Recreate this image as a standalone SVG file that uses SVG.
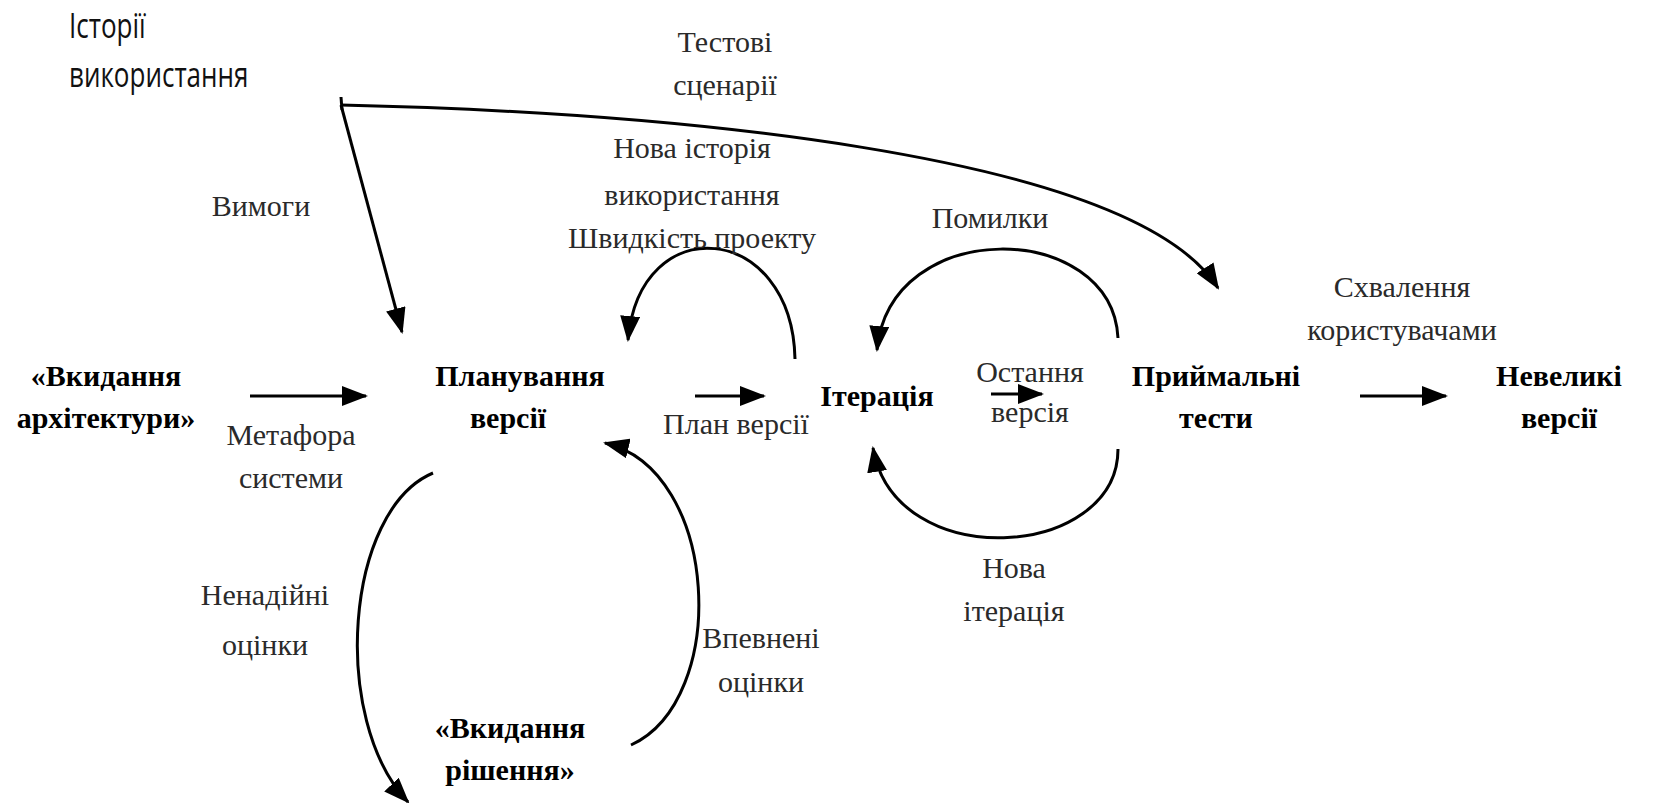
<svg xmlns="http://www.w3.org/2000/svg" width="1657" height="803" viewBox="0 0 1657 803">
<style>
.lbl{font-size:30px;fill:#2a2a2a;text-anchor:middle}
.node{font-size:30px;font-weight:bold;fill:#000;text-anchor:middle}
.sans{font-family:"Open Sans","Liberation Sans",sans-serif;font-size:26px;fill:#111}
.c{fill:none;stroke:#000;stroke-width:3}
</style>
<defs>
<marker id="ah" markerUnits="userSpaceOnUse" markerWidth="26" markerHeight="20" refX="24" refY="10" orient="auto">
<path d="M0,0 L26,10 L0,20 Z" fill="#000"/>
</marker>
</defs>
<rect width="1657" height="803" fill="#fff"/>
<g id="connectors">
<path class="c" d="M250,396 H366" marker-end="url(#ah)"/>
<path class="c" d="M695,396 H764" marker-end="url(#ah)"/>
<path class="c" d="M991,394 H1042" marker-end="url(#ah)"/>
<path class="c" d="M1360,396 H1446" marker-end="url(#ah)"/>
<path class="c" d="M341,97 L342,110"/>
<path class="c" d="M341,105 L402,332" marker-end="url(#ah)"/>
<path class="c" d="M341,105 C650,112 1130,150 1218,288" marker-end="url(#ah)"/>
<path class="c" d="M795,359 C792,222 640,208 628,340" marker-end="url(#ah)"/>
<path class="c" d="M1118,338 C1112,220 890,215 877,350" marker-end="url(#ah)"/>
<path class="c" d="M1118,449 C1118,560 895,575 873,448" marker-end="url(#ah)"/>
<path class="c" d="M433,473 C345,510 330,720 408,802" marker-end="url(#ah)"/>
<path class="c" d="M631,745 C730,700 720,470 605,443" marker-end="url(#ah)"/>
</g>
<g id="n-stories"><text class="sans" transform="translate(69,38) scale(1,1.3)">Історії</text><text class="sans" transform="translate(69,87) scale(1,1.3)">використання</text></g>
<g font-family="'Liberation Serif', 'Times New Roman', Tinos, 'DejaVu Serif', 'Noto Serif', FreeSerif, serif">
<g id="l-tests"><text class="lbl" x="725" y="52">Тестові</text><text class="lbl" x="725" y="95">сценарії</text></g>
<g id="l-new-story"><text class="lbl" x="692" y="158">Нова історія</text><text class="lbl" x="692" y="205">використання</text><text class="lbl" x="692" y="248">Швидкість проекту</text></g>
<g id="l-req"><text class="lbl" x="261" y="216">Вимоги</text></g>
<g id="l-bugs"><text class="lbl" x="990" y="228">Помилки</text></g>
<g id="l-approve"><text class="lbl" x="1402" y="297">Схвалення</text><text class="lbl" x="1402" y="340">користувачами</text></g>
<g id="n-arch"><text class="node" x="106" y="386">«Вкидання</text><text class="node" x="106" y="428">архітектури»</text></g>
<g id="l-metaphor"><text class="lbl" x="291" y="445">Метафора</text><text class="lbl" x="291" y="488">системи</text></g>
<g id="n-plan"><text class="node" x="520" y="386">Планування</text><text class="node" x="508" y="428">версії</text></g>
<g id="l-plan"><text class="lbl" x="736" y="434">План версії</text></g>
<g id="n-iter"><text class="node" x="877" y="406">Ітерація</text></g>
<g id="l-last"><text class="lbl" x="1030" y="382">Остання</text><text class="lbl" x="1030" y="422">версія</text></g>
<g id="n-accept"><text class="node" x="1216" y="386">Приймальні</text><text class="node" x="1216" y="428">тести</text></g>
<g id="n-small"><text class="node" x="1559" y="386">Невеликі</text><text class="node" x="1559" y="428">версії</text></g>
<g id="l-newiter"><text class="lbl" x="1014" y="578">Нова</text><text class="lbl" x="1014" y="621">ітерація</text></g>
<g id="l-unrel"><text class="lbl" x="265" y="605">Ненадійні</text><text class="lbl" x="265" y="655">оцінки</text></g>
<g id="l-conf"><text class="lbl" x="761" y="648">Впевнені</text><text class="lbl" x="761" y="692">оцінки</text></g>
<g id="n-spike"><text class="node" x="510" y="738">«Вкидання</text><text class="node" x="510" y="780">рішення»</text></g>
</g>
</svg>
